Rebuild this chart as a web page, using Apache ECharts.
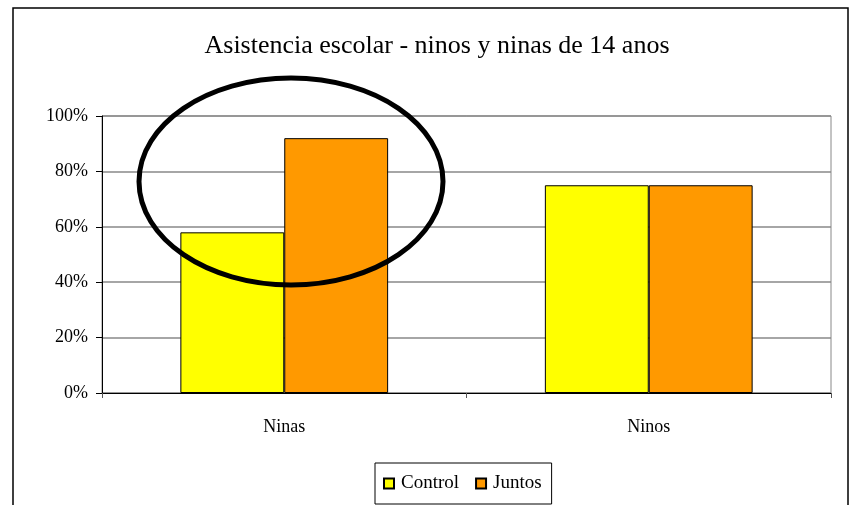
<!DOCTYPE html>
<html>
<head>
<meta charset="utf-8">
<script src="https://cdn.jsdelivr.net/npm/echarts@6/dist/echarts.min.js"></script>
<style>html,body{margin:0;padding:0;background:#fff}#c{width:849px;height:505px}</style>
</head>
<body>
<div id="c"></div>
<script>
const categories = ['Ninas', 'Ninos'];
const controlValues = [58, 75];
const juntosValues = [92, 75];
const seriesNames = ['Control', 'Juntos'];
const yTicks = [0, 20, 40, 60, 80, 100];

const FONT = 'Liberation Serif';
const chart = echarts.init(document.getElementById('c'), null, {renderer: 'canvas'});
chart.setOption({
  backgroundColor: '#fff',
  animation: false,
  title: {
    text: 'Asistencia escolar - ninos y ninas de 14 anos',
    left: 432, top: 28, textAlign: 'center',
    textStyle: {fontFamily: FONT, fontSize: 26, fontWeight: 'normal', color: '#000'}
  },
  grid: {left: 102, right: 18, top: 116, bottom: 112, show: true, borderColor: '#888', borderWidth: 1, backgroundColor: '#fff'},
  legend: {
    data: seriesNames, left: 375, top: 463,
    itemWidth: 10, itemHeight: 10, itemGap: 16,
    borderColor: '#000', borderWidth: 1, padding: [11, 10, 11, 8],
    textStyle: {fontFamily: FONT, fontSize: 19, color: '#000', padding: [0, 0, 0, 2]},
    icon: 'rect'
  },
  xAxis: {
    type: 'category', data: categories,
    axisLine: {lineStyle: {color: '#000', width: 1}},
    axisTick: {show: true, length: 5, inside: false, lineStyle: {color: '#555'}},
    axisLabel: {fontFamily: FONT, fontSize: 18, color: '#000', margin: 25},
    splitLine: {show: false}
  },
  yAxis: {
    type: 'value', min: 0, max: 100, interval: 20,
    axisLine: {show: true, lineStyle: {color: '#000', width: 1}},
    axisTick: {show: true, length: 6, lineStyle: {color: '#000'}},
    axisLabel: {fontFamily: FONT, fontSize: 18, color: '#000', margin: 14,
      formatter: v => yTicks.includes(v) ? v + '%' : ''},
    splitLine: {lineStyle: {color: '#888', width: 1.5}}
  },
  series: [
    {name: seriesNames[0], type: 'bar', data: controlValues, barGap: '0%', barCategoryGap: '43%',
     itemStyle: {color: '#FFFF00', borderColor: '#000', borderWidth: 1}},
    {name: seriesNames[1], type: 'bar', data: juntosValues, barGap: '0%', barCategoryGap: '43%',
     itemStyle: {color: '#FF9900', borderColor: '#000', borderWidth: 1}}
  ],
  graphic: [
    {type: 'rect', shape: {x: 13, y: 8, width: 835, height: 510}, style: {fill: 'none', stroke: '#000', lineWidth: 1.5}, z: 100},
    {type: 'ellipse', shape: {cx: 291, cy: 181.5, rx: 152, ry: 103.5}, style: {fill: 'none', stroke: '#000', lineWidth: 5}, z: 100}
  ]
});
</script>
</body>
</html>
